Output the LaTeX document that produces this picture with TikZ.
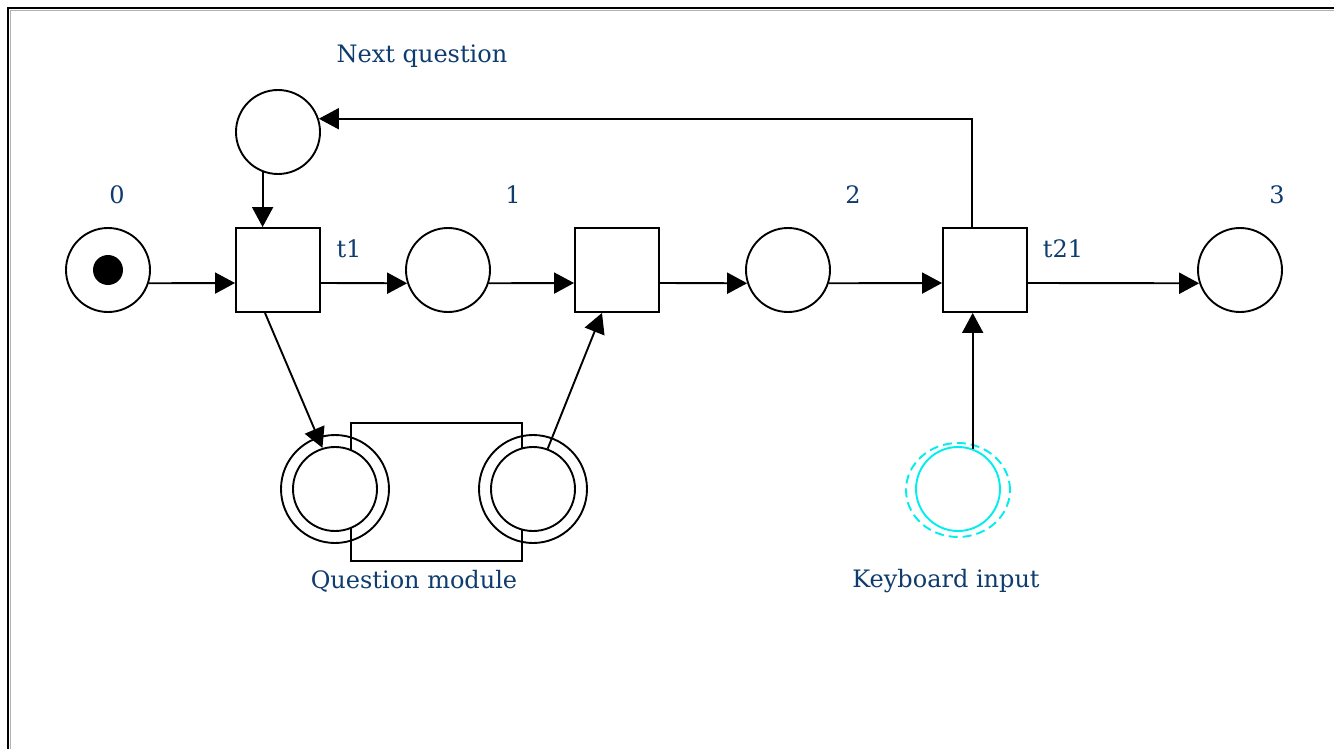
\documentclass[tikz,border=0pt]{standalone}
\usepackage{fontspec}
\setmainfont{DejaVu Serif}
\usetikzlibrary{arrows.meta,calc,shapes.geometric}
\definecolor{lbl}{RGB}{14,60,110}
\definecolor{cy}{RGB}{0,238,238}
\tikzset{
  place/.style={circle,draw,line width=1.9pt,minimum size=84pt,inner sep=0pt},
  trans/.style={rectangle,draw,line width=1.9pt,minimum size=84pt,inner sep=0pt},
  arc/.style={line width=1.9pt,-{Triangle[length=20pt,width=21pt]}},
  plain/.style={line width=1.9pt},
  lab/.style={text=lbl,font=\fontsize{24pt}{28pt}\selectfont,inner sep=0pt},
}
\begin{document}
\begin{tikzpicture}[x=1pt,y=-1pt]
\useasboundingbox (0,0) rectangle (1334,749);
\fill[white] (0,0) rectangle (1334,749);
% frame
\draw[gray!60,line width=1pt] (10.5,749) -- (10.5,10.5) -- (1334,10.5);
\draw[line width=2.2pt] (8,749) -- (8,8) -- (1334,8);
% question module box
\draw[plain] (351,423) rectangle (522,561);
% places
\node[place] (p0) at (108,270) {};
\fill (108,270) circle (15);
\node[trans] (t1) at (278,270) {};
\node[place] (p1) at (448,270) {};
\node[trans] (tm) at (617,270) {};
\node[place] (p2) at (788,270) {};
\node[trans] (t21) at (985,270) {};
\node[place] (p3) at (1240,270) {};
\node[place] (pn) at (278,132) {};
% question module double circles
\node[circle,draw,line width=1.9pt,minimum size=108pt,inner sep=0pt] (qao) at (335,489) {};
\node[place,fill=white] (qa) at (335,489) {};
\node[circle,draw,line width=1.9pt,minimum size=108pt,inner sep=0pt] (qbo) at (533,489) {};
\node[place,fill=white] (qb) at (533,489) {};
% keyboard input
\node[ellipse,draw=cy,dashed,dash pattern=on 9pt off 5pt,line width=1.9pt,minimum width=104pt,minimum height=94pt,inner sep=0pt] (kbo) at (958,490) {};
\node[place,draw=cy] (kb) at (958,489) {};
% arcs
\draw[arc] (p0.-18) -- ([yshift=-13pt]t1.west);
\draw[arc] ([yshift=-13pt]t1.east) -- (p1.-162);
\draw[arc] (p1.-18) -- ([yshift=-13pt]tm.west);
\draw[arc] ([yshift=-13pt]tm.east) -- (p2.-162);
\draw[arc] (p2.-18) -- ([yshift=-13pt]t21.west);
\draw[arc] ([yshift=-13pt]t21.east) -- (p3.-162);
\draw[arc] (pn.-111) -- (pn.-111 |- t1.north);
\draw[arc] ([xshift=-13pt]t21.north) |- (pn.18);
\draw[arc] (kb.70) -- (kb.70 |- t21.south);
\draw[arc] ([xshift=-13pt]t1.south) -- (qa.107);
\draw[arc] (qb.70) -- ([xshift=-15pt]tm.south);
% labels
\node[lab] (lnq) at (422,56) {Next question};
\node[lab] (l0) at (117,195) {0};
\node[lab] (l1) at (513,195) {1};
\node[lab] (l2) at (853,195) {2};
\node[lab] (l3) at (1277,195) {3};
\node[lab] (lt1) at (349,249) {t1};
\node[lab] (lt21) at (1063,249) {t21};
\node[lab] (lqm) at (414,581) {Question module};
\node[lab] (lkb) at (946,581) {Keyboard input};
\end{tikzpicture}
\end{document}
